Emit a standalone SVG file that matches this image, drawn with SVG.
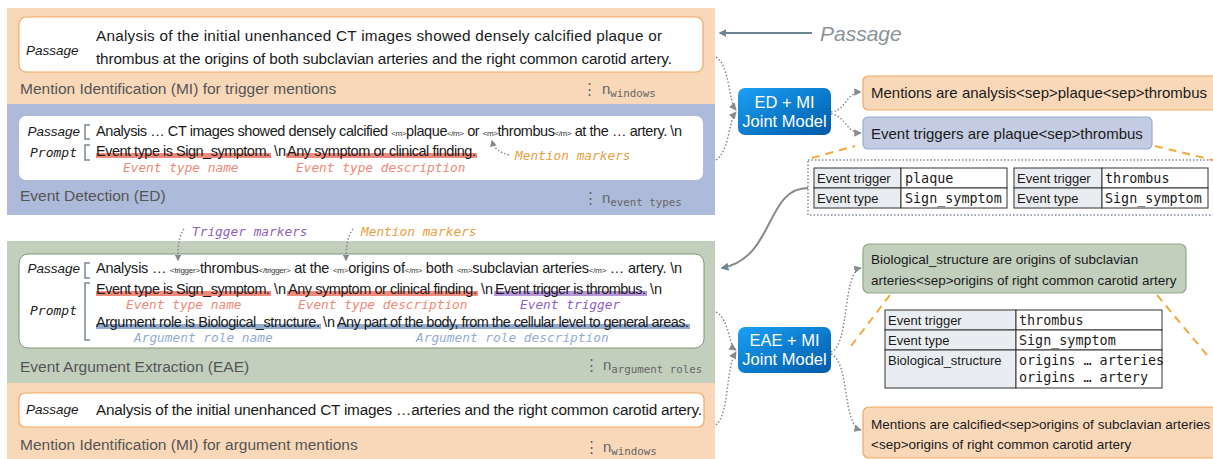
<svg xmlns="http://www.w3.org/2000/svg" width="1213" height="459" viewBox="0 0 1213 459">
<defs>
<style>
.sans{font-family:"Liberation Sans",Arial,sans-serif;fill:#1a1a1a}
.main{font-size:15.3px}
.pt{font-size:14.5px}
.ital{font-style:italic}
.mono{font-family:"DejaVu Sans Mono","Liberation Mono",monospace}
.lab{font-family:"DejaVu Sans Mono","Liberation Mono",monospace;font-style:italic;font-size:12.8px}
.title{font-family:"Liberation Sans",Arial,sans-serif;font-size:15.5px;fill:#555}
.sm{font-size:8px;fill:#333}
.wbox{fill:#fff;stroke:#f0a860;stroke-width:1.2}
.dot{fill:none;stroke:#8a8a8a;stroke-width:1.5;stroke-dasharray:1.5 2}
.dash{fill:none;stroke:#f5a83a;stroke-width:2;stroke-dasharray:8 6}
.brk{fill:none;stroke:#7a8a99;stroke-width:1.5}
.cell{fill:#fff;stroke:#333;stroke-width:1}
.hcell{fill:#e9edf1;stroke:#333;stroke-width:1}
.tc{font-family:"Liberation Sans",Arial,sans-serif;font-size:13px;fill:#1a1a1a}
.tv{font-family:"DejaVu Sans Mono","Liberation Mono",monospace;font-size:13.4px;fill:#1a1a1a}
.jm{font-family:"Liberation Sans",Arial,sans-serif;font-size:16.5px;fill:#fff;text-anchor:middle}
.cnt{font-family:"Liberation Sans",Arial,sans-serif;font-size:15px;fill:#666}
.sub{font-family:"DejaVu Sans Mono","Liberation Mono",monospace;font-size:10.8px;fill:#666}
</style>
<linearGradient id="jg" x1="0" y1="0" x2="1" y2="1">
<stop offset="0" stop-color="#1aa0f5"/>
<stop offset="1" stop-color="#005aa8"/>
</linearGradient>
<marker id="ah" viewBox="0 0 10 10" refX="9" refY="5" markerWidth="5" markerHeight="5" orient="auto">
<path d="M0,0 L10,5 L0,10 z" fill="#8a8a8a"/>
</marker>
<marker id="ahs" viewBox="0 0 10 10" refX="8" refY="5" markerWidth="4.5" markerHeight="4.5" orient="auto">
<path d="M0,0 L10,5 L0,10 z" fill="#888"/>
</marker>
<marker id="ahp" viewBox="0 0 10 10" refX="8" refY="5" markerWidth="4" markerHeight="4" orient="auto">
<path d="M0,0 L10,5 L0,10 z" fill="#6d8591"/>
</marker>
</defs>

<!-- MI trigger panel -->
<g id="mi-trigger">
<rect x="7" y="8" width="708" height="96" fill="#f9d8b9"/>
<rect x="19" y="17" width="684" height="55" rx="7" class="wbox"/>
<text x="26" y="55" class="sans ital" font-size="13.5">Passage</text>
<text x="96" y="41" class="sans main" textLength="566" lengthAdjust="spacing">Analysis of the initial unenhanced CT images showed densely calcified plaque or</text>
<text x="96" y="64" class="sans main" textLength="576" lengthAdjust="spacing">thrombus at the origins of both subclavian arteries and the right common carotid artery.</text>
<text x="20" y="94" class="title">Mention Identification (MI) for trigger mentions</text>
<text x="582" y="94" class="cnt">⋮</text>
<text x="602" y="94" class="cnt">n<tspan class="sub" dy="3">windows</tspan></text>
</g>

<!-- ED panel -->
<g id="ed">
<rect x="7" y="104" width="708" height="111" fill="#adbad9"/>
<rect x="19" y="116" width="684" height="64" rx="7" fill="#fff"/>
<text x="80" y="136" class="sans ital" font-size="13.5" text-anchor="end">Passage</text>
<path d="M90 125 L85 125 L85 139 L90 139" class="brk"/>
<text x="96" y="136" class="sans pt" textLength="586" lengthAdjust="spacing">Analysis … CT images showed densely calcified <tspan class="sm">&lt;m&gt;</tspan>plaque<tspan class="sm">&lt;/m&gt;</tspan> or <tspan class="sm">&lt;m&gt;</tspan>thrombus<tspan class="sm">&lt;/m&gt;</tspan> at the … artery. \n</text>
<text x="77" y="157" class="mono ital" font-size="13" text-anchor="end" fill="#1a1a1a">Prompt</text>
<path d="M90 145 L85 145 L85 160 L90 160" class="brk"/>
<rect x="96" y="153" width="175" height="5" fill="#f08a7c"/>
<rect x="286" y="153" width="191" height="5" fill="#f08a7c"/>
<text x="96" y="156" class="sans pt" textLength="174" lengthAdjust="spacing">Event type is Sign_symptom.</text>
<text x="274" y="156" class="sans pt">\n</text>
<text x="287" y="156" class="sans pt" textLength="189" lengthAdjust="spacing">Any symptom or clinical finding.</text>
<text x="123" y="172" class="lab" fill="#f28878">Event type name</text>
<text x="296" y="172" class="lab" fill="#f28878">Event type description</text>
<path d="M509 155 C498 152 494 148 492 141" class="dot" marker-end="url(#ahs)"/>
<text x="515" y="160" class="lab" fill="#e9a03e">Mention markers</text>
<text x="20" y="201" class="title">Event Detection (ED)</text>
<text x="583" y="203" class="cnt">⋮</text>
<text x="602" y="203" class="cnt">n<tspan class="sub" dy="3">event types</tspan></text>
</g>

<!-- EAE panel -->
<g id="eae">
<rect x="7" y="241" width="708" height="142" fill="#c2cfbd"/>
<rect x="19" y="254" width="685" height="94" rx="9" fill="#fff" stroke="#7e9878" stroke-width="1"/>
<text x="80" y="273" class="sans ital" font-size="13.5" text-anchor="end">Passage</text>
<path d="M90 263 L85 263 L85 278 L90 278" class="brk"/>
<text x="96" y="273" class="sans pt" textLength="586" lengthAdjust="spacing">Analysis … <tspan class="sm">&lt;trigger&gt;</tspan>thrombus<tspan class="sm">&lt;/trigger&gt;</tspan> at the <tspan class="sm">&lt;m&gt;</tspan>origins of<tspan class="sm">&lt;/m&gt;</tspan> both <tspan class="sm">&lt;m&gt;</tspan>subclavian arteries<tspan class="sm">&lt;/m&gt;</tspan> … artery. \n</text>
<text x="77" y="315" class="mono ital" font-size="13" text-anchor="end" fill="#1a1a1a">Prompt</text>
<path d="M90 283 L85 283 L85 340 L90 340" class="brk"/>
<rect x="96" y="291" width="175" height="5" fill="#f08a7c"/>
<rect x="287" y="291" width="191" height="5" fill="#f08a7c"/>
<rect x="494" y="291" width="153" height="5" fill="#b596d6"/>
<text x="96" y="294" class="sans pt" textLength="174" lengthAdjust="spacing">Event type is Sign_symptom.</text>
<text x="274" y="294" class="sans pt">\n</text>
<text x="288" y="294" class="sans pt" textLength="189" lengthAdjust="spacing">Any symptom or clinical finding.</text>
<text x="481" y="294" class="sans pt">\n</text>
<text x="495" y="294" class="sans pt" textLength="151" lengthAdjust="spacing">Event trigger is thrombus.</text>
<text x="650" y="294" class="sans pt">\n</text>
<text x="126" y="309" class="lab" fill="#f28878">Event type name</text>
<text x="298" y="309" class="lab" fill="#f28878">Event type description</text>
<text x="520" y="309" class="lab" fill="#8e5fc0">Event trigger</text>
<rect x="96" y="324" width="225" height="5" fill="#93abcf"/>
<rect x="337" y="324" width="353" height="5" fill="#93abcf"/>
<text x="96" y="327" class="sans pt" textLength="224" lengthAdjust="spacing">Argument role is Biological_structure.</text>
<text x="323" y="327" class="sans pt">\n</text>
<text x="337" y="327" class="sans pt" textLength="352" lengthAdjust="spacing">Any part of the body, from the cellular level to general areas.</text>
<text x="134" y="342" class="lab" fill="#93abd6">Argument role name</text>
<text x="416" y="342" class="lab" fill="#93abd6">Argument role description</text>
<text x="20" y="372" class="title">Event Argument Extraction (EAE)</text>
<text x="584" y="370" class="cnt">⋮</text>
<text x="603" y="370" class="cnt">n<tspan class="sub" dy="3">argument roles</tspan></text>
</g>

<!-- marker labels above EAE -->
<g id="marker-labels">
<path d="M184 229 C178 236 178 250 178 260" class="dot" marker-end="url(#ahs)"/>
<text x="192" y="236" class="lab" fill="#8e5fc0">Trigger markers</text>
<path d="M353 229 C347 236 346 250 346 260" class="dot" marker-end="url(#ahs)"/>
<text x="361" y="236" class="lab" fill="#e9a03e">Mention markers</text>
</g>

<!-- MI argument panel -->
<g id="mi-argument">
<rect x="7" y="383" width="708" height="76" fill="#f9d8b9"/>
<rect x="19" y="393" width="685" height="34" rx="6" class="wbox"/>
<text x="26" y="414" class="sans ital" font-size="13.5">Passage</text>
<text x="96" y="415" class="sans main" textLength="606" lengthAdjust="spacing">Analysis of the initial unenhanced CT images …arteries and the right common carotid artery.</text>
<text x="20" y="450" class="title">Mention Identification (MI) for argument mentions</text>
<text x="584" y="452" class="cnt">⋮</text>
<text x="603" y="452" class="cnt">n<tspan class="sub" dy="3">windows</tspan></text>
</g>

<!-- Passage label -->
<g id="passage-label">
<line x1="812" y1="33" x2="720" y2="33" stroke="#6d8591" stroke-width="2" marker-end="url(#ahp)"/>
<text x="820" y="41" class="sans ital" font-size="21" style="fill:#8b9398">Passage</text>
</g>

<!-- Joint models -->
<g id="ed-mi-model">
<rect x="738" y="88" width="93" height="47" rx="7" fill="url(#jg)"/>
<text x="784.5" y="108" class="jm">ED + MI</text>
<text x="784.5" y="127" class="jm">Joint Model</text>
</g>
<g id="eae-mi-model">
<rect x="738" y="327" width="93" height="46" rx="7" fill="url(#jg)"/>
<text x="784.5" y="346" class="jm">EAE + MI</text>
<text x="784.5" y="365" class="jm">Joint Model</text>
</g>

<!-- ED outputs -->
<g id="out-mentions-trigger">
<rect x="863" y="76" width="360" height="34" rx="5" fill="#f9d8b9" stroke="#f0a860" stroke-width="1.2"/>
<text x="871" y="98" class="sans" font-size="15">Mentions are analysis&lt;sep&gt;plaque&lt;sep&gt;thrombus</text>
</g>
<g id="out-triggers">
<rect x="863" y="117" width="289" height="32" rx="5" fill="#c3cce2" stroke="#9aabd3" stroke-width="1.2"/>
<text x="871" y="139" class="sans" font-size="15">Event triggers are plaque&lt;sep&gt;thrombus</text>
</g>
<g id="ed-tables">
<rect x="808" y="160" width="410" height="55" fill="none" stroke="#7a8a99" stroke-width="1.5" stroke-dasharray="1.5 2"/>
<rect x="814" y="168" width="87" height="20" class="hcell"/>
<rect x="901" y="168" width="106" height="20" class="cell"/>
<rect x="814" y="188" width="87" height="20" class="hcell"/>
<rect x="901" y="188" width="106" height="20" class="cell"/>
<text x="817" y="183" class="tc">Event trigger</text>
<text x="905" y="183" class="tv">plaque</text>
<text x="817" y="203" class="tc">Event type</text>
<text x="905" y="203" class="tv">Sign_symptom</text>
<rect x="1014" y="168" width="88" height="20" class="hcell"/>
<rect x="1102" y="168" width="106" height="20" class="cell"/>
<rect x="1014" y="188" width="88" height="20" class="hcell"/>
<rect x="1102" y="188" width="106" height="20" class="cell"/>
<text x="1017" y="183" class="tc">Event trigger</text>
<text x="1105" y="183" class="tv">thrombus</text>
<text x="1017" y="203" class="tc">Event type</text>
<text x="1105" y="203" class="tv">Sign_symptom</text>
</g>

<!-- EAE outputs -->
<g id="out-arguments">
<rect x="863" y="244" width="323" height="49" rx="6" fill="#c2cfbd" stroke="#8fa887" stroke-width="1.2"/>
<text x="871" y="264" class="sans" font-size="13.5">Biological_structure are origins of subclavian</text>
<text x="871" y="285" class="sans" font-size="13.5">arteries&lt;sep&gt;origins of right common carotid artery</text>
</g>
<g id="eae-table">
<rect x="885" y="310" width="131" height="20" class="hcell"/>
<rect x="1016" y="310" width="146" height="20" class="cell"/>
<rect x="885" y="330" width="131" height="20" class="hcell"/>
<rect x="1016" y="330" width="146" height="20" class="cell"/>
<rect x="885" y="350" width="131" height="38" class="hcell"/>
<rect x="1016" y="350" width="146" height="38" class="cell"/>
<text x="888" y="325" class="tc">Event trigger</text>
<text x="1019" y="325" class="tv">thrombus</text>
<text x="888" y="345" class="tc">Event type</text>
<text x="1019" y="345" class="tv">Sign_symptom</text>
<text x="888" y="365" class="tc">Biological_structure</text>
<text x="1019" y="365" class="tv">origins … arteries</text>
<text x="1019" y="382" class="tv">origins … artery</text>
</g>
<g id="out-mentions-argument">
<rect x="863" y="407" width="360" height="51" rx="6" fill="#f9d8b9" stroke="#f0a860" stroke-width="1.2"/>
<text x="871" y="429" class="sans" font-size="13.5">Mentions are calcified&lt;sep&gt;origins of subclavian arteries</text>
<text x="871" y="449" class="sans" font-size="13.5">&lt;sep&gt;origins of right common carotid artery</text>
</g>

<!-- connectors -->
<g id="connectors">
<path d="M716 57 C730 66 728 100 736 110" class="dot" marker-end="url(#ah)"/>
<path d="M716 160 C730 150 728 122 736 112" class="dot" marker-end="url(#ah)"/>
<path d="M831 112 C846 111 846 92 861 92" class="dot" marker-end="url(#ah)"/>
<path d="M831 114 C846 116 846 133 861 133" class="dot" marker-end="url(#ah)"/>
<path d="M716 312 C730 320 728 345 736 350" class="dot" marker-end="url(#ah)"/>
<path d="M716 425 C730 412 725 370 736 352" class="dot" marker-end="url(#ah)"/>
<path d="M831 352 C850 345 842 272 861 268" class="dot" marker-end="url(#ah)"/>
<path d="M831 354 C850 362 842 425 861 430" class="dot" marker-end="url(#ah)"/>
<path d="M808 188 C765 188 775 258 722 268" fill="none" stroke="#8a8a8a" stroke-width="2" marker-end="url(#ahp)"/>
<line x1="812" y1="158" x2="855" y2="146" class="dash"/>
<line x1="1155" y1="146" x2="1213" y2="160" class="dash"/>
<line x1="890" y1="295" x2="848" y2="350" class="dash"/>
<line x1="1157" y1="295" x2="1207" y2="355" class="dash"/>
</g>
</svg>
